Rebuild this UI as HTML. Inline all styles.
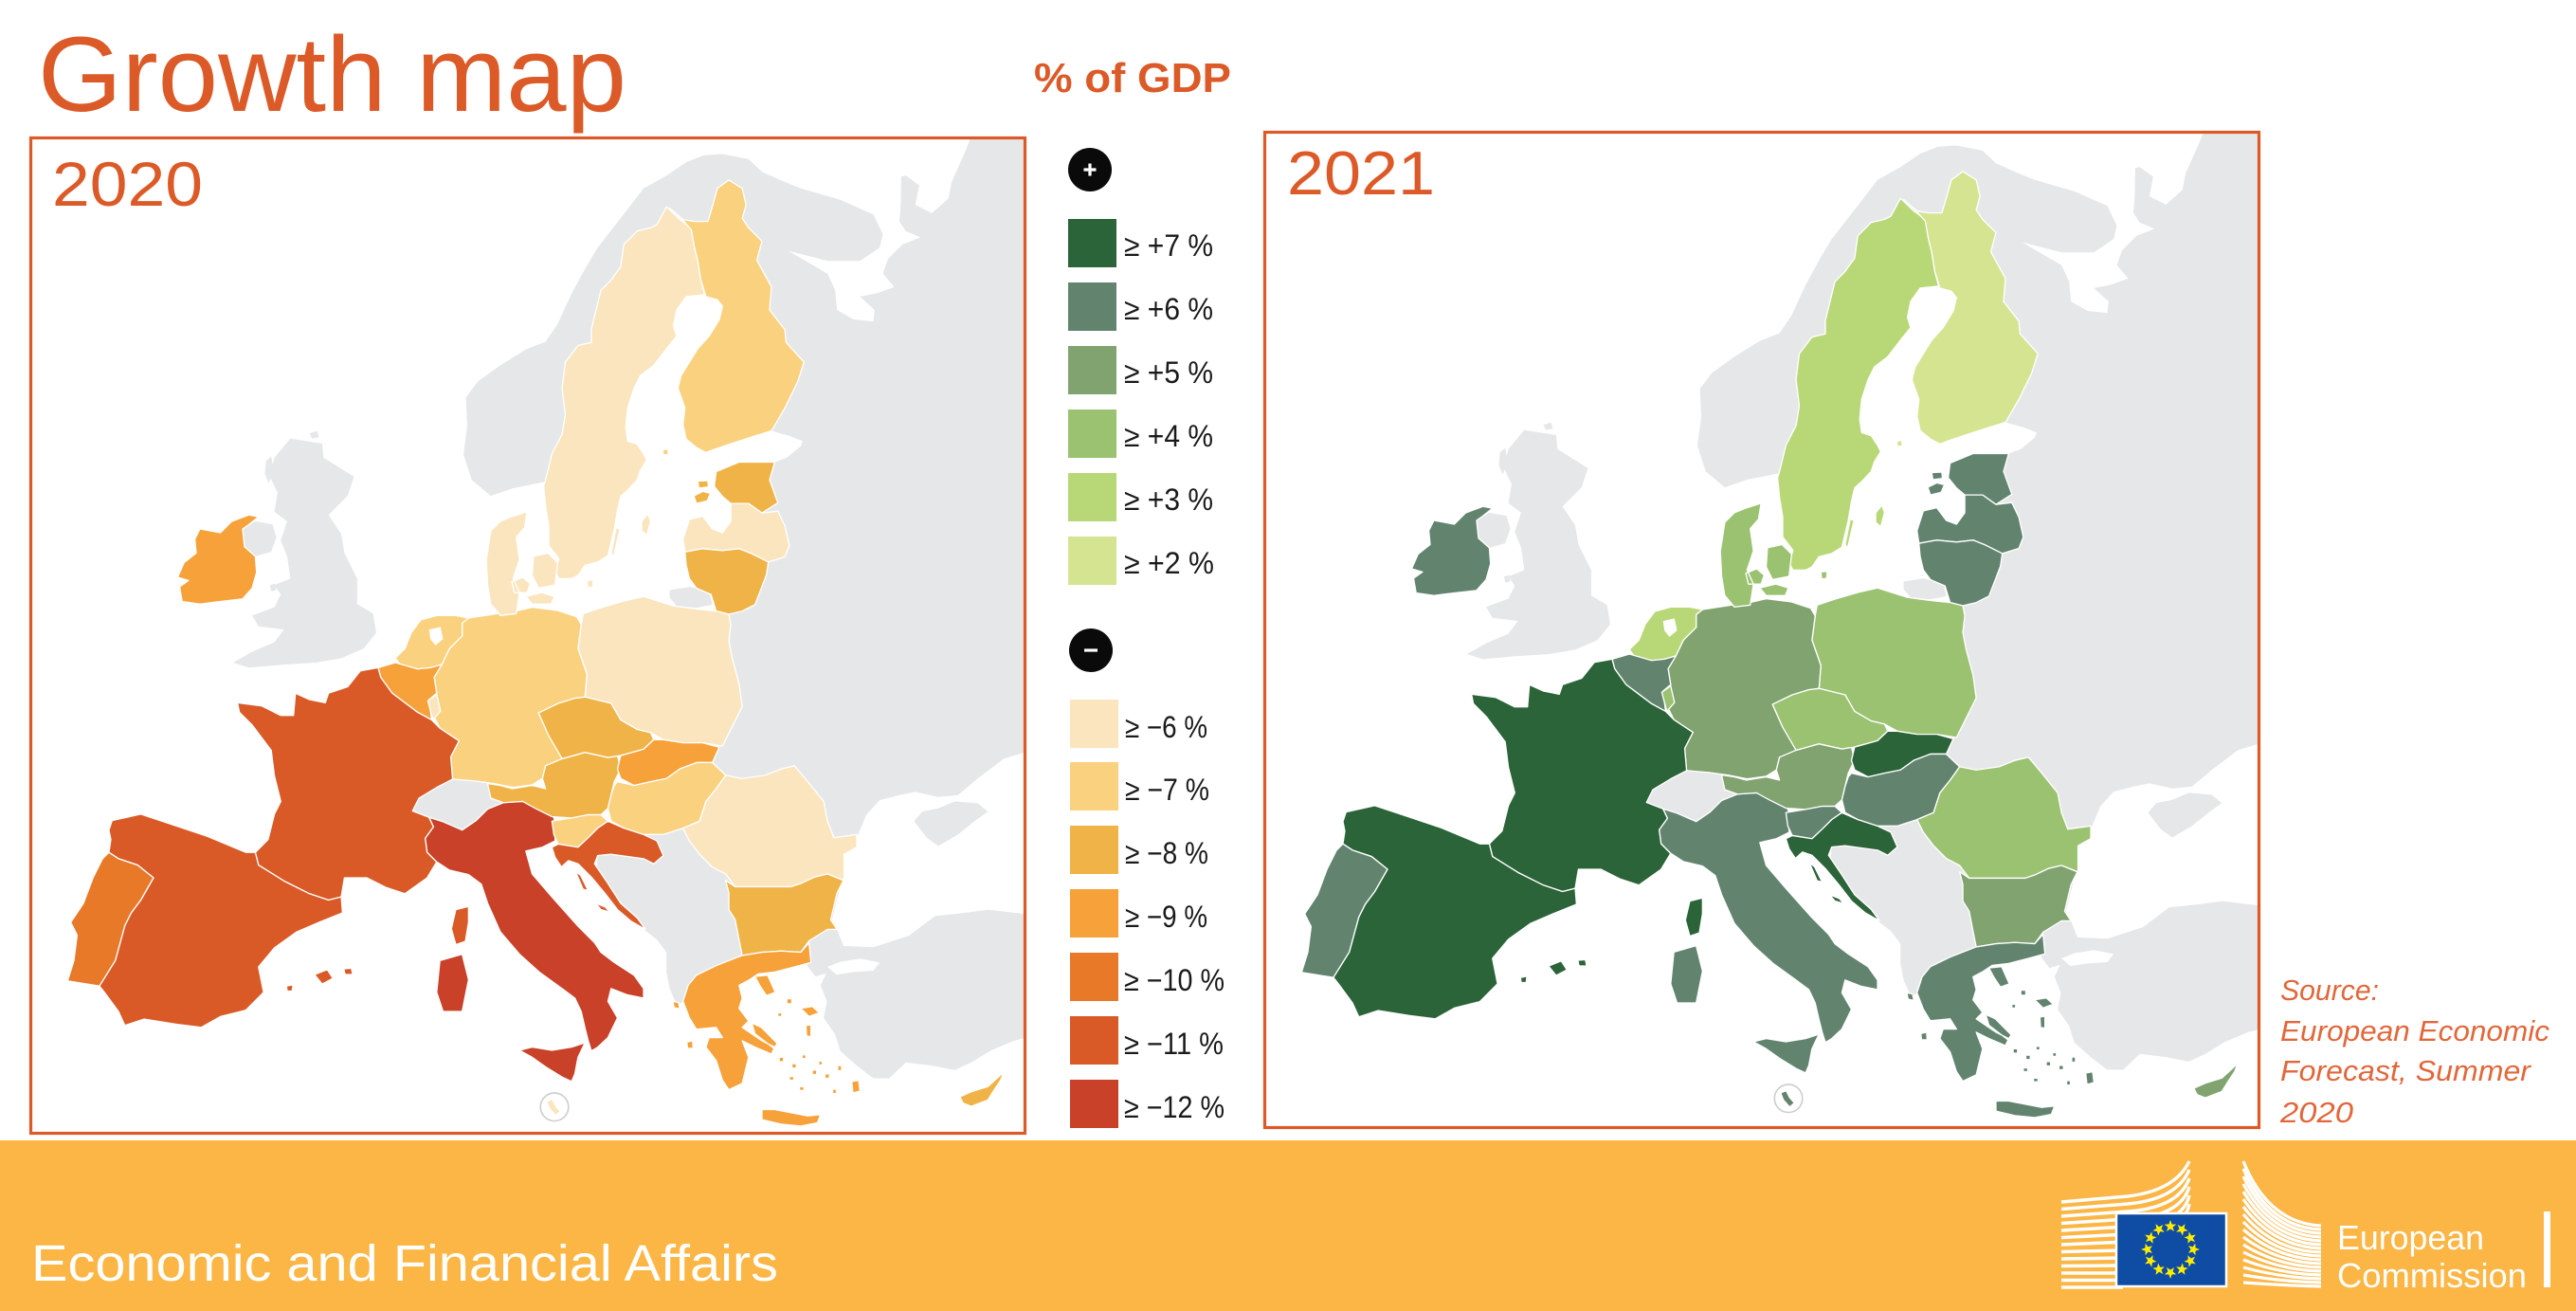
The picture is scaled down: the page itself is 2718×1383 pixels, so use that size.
<!DOCTYPE html>
<html><head><meta charset="utf-8"><style>
html,body{margin:0;padding:0;background:#fff;}
svg{display:block;}
text{font-family:"Liberation Sans","DejaVu Sans",sans-serif;}
</style></head><body>
<svg width="2718" height="1383" viewBox="0 0 2718 1383" xmlns="http://www.w3.org/2000/svg" xmlns:xlink="http://www.w3.org/1999/xlink">
<defs>
<clipPath id="c20" clipPathUnits="userSpaceOnUse"><rect x="33" y="146" width="1048" height="1049"/></clipPath>
<clipPath id="c21" clipPathUnits="userSpaceOnUse"><rect x="1335" y="140" width="1048" height="1048"/></clipPath>

<path id="east" d="M725,560 L695,535 L682,495 L688,450 L686,405 L705,380 L740,355 L780,330 L811,318 L830,290 L852,242 L875,200 L893,170 L929,124 L965,77 L1001,57 L1032,36 L1060,25 L1089,23 L1130,31 L1151,51 L1187,67 L1212,77 L1274,95 L1326,118 L1341,149 L1350,120 L1346,62 L1377,57 L1398,72 L1392,103 L1418,116 L1444,93 L1449,67 L1470,20 L1480,-5 L1590,-5 L1590,1405 L1547,1416 L1511,1431 L1480,1450 L1454,1462 L1418,1455 L1377,1450 L1351,1475 L1326,1475 L1300,1455 L1274,1432 L1266,1406 L1248,1380 L1253,1354 L1243,1329 L1252,1310 L1235,1315 L1222,1298 L1225,1262 L1200,1230 L1200,1140 L1150,1040 L1060,1040 L1000,985 L1050,900 L1080,770 L1090,700 L1120,630 L1130,560 L1160,515 L1171,507 L1190,500 L1212,482 L1215,474 L1195,466 L1166,458 L1150,400 L1110,200 L1100,110 L1000,180 L900,300 L840,500 L815,537 L800,540 L760,548 Z"/>
<path id="seas" d="M1192,175 L1254,191 L1305,191 L1336,170 L1341,149 L1336,118 L1344,52 L1370,50 L1369,103 L1367,129 L1377,144 L1400,154 L1372,165 L1349,188 L1341,211 L1359,232 L1331,242 L1305,247 L1328,268 L1326,286 L1295,283 L1269,268 L1266,237 L1254,211 L1223,193 Z M1300,1097 L1315,1061 L1336,1038 L1367,1030 L1392,1025 L1428,1033 L1459,1030 L1490,1004 L1531,973 L1590,955 L1590,1220 L1506,1210 L1470,1215 L1423,1220 L1382,1251 L1326,1269 L1279,1267 L1269,1241 L1261,1226 L1274,1174 L1280,1123 Z M1254,1300 L1274,1292 L1305,1287 L1336,1293 L1326,1306 L1295,1308 L1268,1312 Z"/>
<path id="gray2" d="M1390,1071 L1403,1056 L1428,1051 L1454,1040 L1490,1043 L1506,1056 L1485,1071 L1459,1092 L1428,1110 L1410,1097 Z
M410,470 L460,478 L462,500 L510,530 L500,560 L470,590 L490,620 L495,650 L515,690 L515,730 L540,745 L545,775 L525,800 L490,815 L450,822 L400,825 L345,830 L320,822 L350,805 L385,790 L400,770 L360,765 L350,748 L385,735 L395,715 L385,700 L410,690 L405,655 L395,630 L405,600 L385,585 L390,555 L378,530 L385,500 Z
M335,612 L355,600 L382,605 L388,625 L380,648 L355,655 L338,640 Z
M1006,708 L1037,703 L1068,710 L1073,731 L1048,736 L1017,733 L1006,720 Z
M602,1055 L612,1035 L640,1018 L665,1003 L700,1004 L732,1008 L748,1035 L742,1048 L720,1052 L702,1070 L680,1085 L650,1072 L628,1065 Z
M893,1123 L914,1102 L991,1082 L1048,1082 L1120,1123 L1130,1200 L1130,1277 L1079,1298 L1048,1313 L1032,1354 L1017,1359 L1006,1334 L1001,1308 L1001,1277 L986,1257 L965,1241 L940,1215 L914,1184 L891,1154 Z
M372,505 L380,498 L384,520 L376,540 L370,525 Z M440,462 L452,458 L455,468 L444,470 Z M378,700 L386,698 L388,708 L380,710 Z"/>

<path id="ie" d="M268,612 L300,618 L318,600 L345,590 L360,593 L345,605 L335,612 L338,640 L355,655 L357,680 L350,705 L335,722 L300,726 L268,730 L240,726 L236,703 L250,693 L233,688 L243,665 L262,650 L260,628 Z"/>
<path id="se" d="M1001,106 L1022,126 L1040,139 L1045,170 L1050,190 L1055,221 L1061,244 L1032,247 L1017,268 L1012,293 L1017,309 L1001,329 L981,355 L960,371 L950,391 L940,422 L937,453 L940,474 L955,479 L965,494 L970,504 L960,520 L955,535 L940,551 L929,561 L924,582 L919,612 L914,633 L909,654 L893,664 L873,669 L862,685 L852,690 L832,690 L826,679 L832,659 L816,638 L816,607 L811,576 L808,545 L811,535 L821,494 L837,463 L842,432 L837,391 L842,350 L862,324 L883,319 L883,298 L898,237 L914,221 L929,200 L934,165 L955,144 L976,139 L986,134 Z M962,600 L972,588 L976,600 L970,622 L962,615 Z M922,610 L928,612 L918,655 L914,650 Z"/>
<path id="fi" d="M1006,108 L1027,126 L1045,129 L1066,129 L1073,106 L1081,77 L1099,64 L1120,77 L1126,103 L1120,124 L1130,139 L1151,160 L1143,190 L1166,232 L1163,268 L1187,299 L1189,319 L1217,350 L1207,381 L1187,422 L1166,458 L1140,466 L1109,476 L1079,486 L1063,492 L1048,484 L1032,471 L1027,448 L1030,422 L1019,391 L1024,371 L1037,350 L1050,329 L1068,309 L1084,283 L1089,262 L1081,252 L1063,247 L1055,221 L1050,190 L1045,170 L1040,142 L1024,124 Z M995,488 L1003,486 L1004,495 L996,496 Z"/>
<path id="ee" d="M1079,522 L1115,507 L1171,507 L1163,535 L1176,571 L1151,587 L1130,572 L1102,572 L1089,561 L1076,545 Z M1044,560 L1058,553 L1070,556 L1065,568 L1048,572 Z M1050,537 L1066,536 L1067,546 L1052,548 Z"/>
<path id="lv" d="M1037,597 L1058,592 L1073,612 L1089,618 L1102,600 L1102,572 L1130,572 L1151,587 L1176,584 L1187,607 L1194,638 L1187,656 L1161,664 L1135,651 L1115,643 L1089,646 L1058,643 L1030,648 L1027,628 Z"/>
<path id="lt" d="M1030,648 L1058,643 L1089,646 L1115,643 L1135,651 L1161,664 L1158,684 L1150,705 L1140,731 L1120,741 L1099,746 L1079,741 L1071,715 L1048,705 L1037,690 L1032,669 Z"/>
<path id="pl" d="M870,745 L900,735 L935,725 L965,718 L1012,733 L1050,738 L1079,741 L1099,746 L1102,762 L1099,788 L1104,814 L1115,855 L1120,891 L1089,953 L1058,948 L1027,948 L996,943 L976,932 L955,927 L929,912 L914,886 L873,876 L876,840 L862,800 L867,762 Z"/>
<path id="de" d="M690,752 L735,745 L760,742 L790,735 L830,740 L860,750 L867,762 L862,800 L876,840 L873,876 L857,878 L831,886 L800,901 L816,937 L837,958 L842,973 L811,984 L806,1004 L790,1014 L760,1018 L730,1012 L700,1008 L665,1005 L662,970 L675,945 L645,925 L635,905 L640,870 L636,845 L648,825 L660,800 L680,780 L680,760 Z"/>
<path id="dk" d="M725,615 L740,600 L760,592 L782,585 L778,610 L765,625 L770,660 L760,690 L770,712 L765,745 L740,748 L725,730 L720,700 L718,660 L722,635 Z M758,695 L775,688 L787,698 L782,712 L762,712 Z M792,655 L815,650 L830,665 L826,700 L800,705 L790,685 Z M780,718 L805,712 L825,718 L820,730 L790,730 Z M876,693 L886,692 L885,703 L877,704 Z"/>
<path id="nl" d="M590,800 L600,775 L615,755 L640,748 L670,748 L690,752 L680,760 L680,780 L660,800 L648,825 L630,830 L610,832 L585,828 L575,815 Z"/>
<path id="ij" d="M628,770 L646,766 L650,785 L638,795 L630,785 Z"/>
<path id="be" d="M548,830 L575,822 L610,832 L630,830 L648,825 L636,845 L640,870 L628,880 L632,912 L610,900 L590,885 L570,870 L552,845 Z"/>
<path id="lu" d="M626,882 L640,872 L646,898 L634,912 Z"/>
<path id="fr" d="M520,835 L548,830 L552,845 L570,870 L590,885 L610,900 L632,912 L645,925 L675,945 L662,970 L665,1005 L640,1018 L612,1035 L602,1055 L628,1065 L635,1080 L622,1098 L625,1120 L640,1135 L625,1160 L590,1185 L560,1175 L530,1160 L495,1160 L490,1190 L470,1195 L440,1185 L400,1165 L360,1140 L355,1120 L375,1100 L385,1060 L395,1040 L385,1000 L380,960 L350,920 L330,900 L327,885 L365,890 L395,905 L415,905 L418,870 L440,880 L465,885 L470,870 L500,860 Z M670,1210 L690,1205 L690,1230 L685,1260 L670,1265 L663,1240 Z"/>
<path id="es" d="M130,1070 L175,1060 L220,1075 L280,1095 L340,1120 L355,1120 L360,1140 L400,1165 L440,1185 L470,1195 L490,1190 L492,1215 L455,1230 L420,1245 L385,1270 L360,1300 L368,1340 L340,1368 L300,1378 L270,1395 L230,1390 L180,1382 L150,1392 L140,1370 L118,1340 L110,1330 L135,1290 L150,1235 L160,1215 L175,1195 L195,1160 L170,1140 L140,1130 L125,1120 L128,1100 L125,1085 Z M448,1312 L468,1304 L477,1318 L460,1327 Z M494,1303 L506,1302 L508,1312 L496,1312 Z M404,1330 L414,1328 L413,1338 L405,1338 Z"/>
<path id="pt" d="M125,1120 L140,1130 L170,1140 L195,1160 L175,1195 L160,1215 L150,1235 L135,1290 L110,1330 L60,1322 L70,1290 L75,1250 L65,1230 L85,1200 L100,1160 L115,1130 Z"/>
<path id="it" d="M622,1098 L635,1080 L628,1065 L650,1072 L680,1085 L702,1070 L720,1052 L745,1042 L770,1040 L800,1040 L822,1055 L826,1075 L826,1102 L806,1112 L780,1118 L790,1154 L821,1190 L862,1236 L888,1262 L898,1277 L919,1293 L950,1313 L965,1334 L965,1349 L940,1344 L914,1334 L909,1354 L924,1380 L909,1411 L893,1426 L883,1432 L878,1416 L873,1396 L867,1370 L857,1349 L837,1334 L801,1308 L770,1280 L740,1245 L720,1200 L710,1170 L690,1155 L660,1148 L640,1135 L625,1120 Z M770,1431 L790,1426 L821,1431 L852,1426 L873,1419 L862,1442 L857,1468 L852,1480 L837,1473 L811,1457 L790,1442 Z M645,1290 L680,1280 L690,1320 L680,1370 L650,1370 L640,1340 Z"/>
<path id="at" d="M720,1012 L740,1015 L759,1020 L790,1015 L811,1020 L806,1004 L811,984 L837,973 L873,963 L909,971 L924,968 L929,989 L919,1009 L914,1030 L909,1051 L898,1061 L878,1061 L852,1066 L821,1064 L795,1051 L775,1040 L745,1042 L725,1035 Z"/>
<path id="cz" d="M800,901 L831,886 L857,878 L873,876 L914,886 L929,912 L955,927 L976,932 L981,943 L965,958 L929,968 L909,971 L873,963 L837,973 L816,937 Z"/>
<path id="sk" d="M929,968 L965,958 L981,943 L996,943 L1027,948 L1058,948 L1084,955 L1073,979 L1048,979 L1022,989 L1001,1004 L976,1009 L950,1015 L929,1004 L924,989 Z"/>
<path id="hu" d="M924,1009 L950,1015 L976,1009 L1001,1004 L1022,989 L1048,979 L1073,979 L1094,999 L1079,1020 L1063,1040 L1053,1071 L1027,1082 L996,1092 L965,1092 L934,1082 L914,1071 L909,1051 L914,1030 L919,1015 Z"/>
<path id="si" d="M821,1071 L852,1066 L878,1061 L898,1061 L909,1071 L893,1082 L878,1097 L862,1112 L831,1107 L824,1092 Z"/>
<path id="hr" d="M862,1112 L878,1097 L893,1082 L909,1071 L934,1082 L965,1092 L986,1102 L996,1125 L981,1138 L965,1130 L914,1123 L893,1125 L888,1138 L909,1169 L929,1200 L955,1223 L968,1241 L945,1228 L924,1210 L904,1184 L883,1159 L862,1138 L847,1133 L836,1143 L826,1128 L821,1112 L831,1107 Z M858,1150 L866,1156 L878,1180 L870,1178 Z M890,1200 L905,1206 L912,1214 L898,1210 Z"/>
<path id="ro" d="M1027,1082 L1053,1071 L1063,1040 L1079,1020 L1094,999 L1120,1004 L1156,999 L1181,989 L1202,984 L1223,1009 L1248,1040 L1254,1071 L1264,1097 L1300,1092 L1300,1112 L1280,1123 L1280,1164 L1254,1154 L1233,1159 L1212,1169 L1197,1174 L1171,1174 L1145,1174 L1109,1174 L1094,1154 L1073,1143 L1053,1123 L1037,1102 Z"/>
<path id="bg" d="M1094,1164 L1109,1174 L1145,1174 L1171,1174 L1197,1174 L1212,1169 L1233,1159 L1254,1154 L1279,1164 L1269,1184 L1259,1226 L1269,1241 L1254,1241 L1225,1259 L1212,1277 L1181,1275 L1151,1277 L1120,1282 L1115,1257 L1109,1226 L1099,1210 L1099,1184 Z"/>
<path id="gr" d="M1048,1313 L1079,1298 L1120,1282 L1151,1277 L1181,1275 L1212,1277 L1225,1262 L1228,1293 L1202,1300 L1171,1308 L1145,1311 L1130,1321 L1115,1329 L1120,1349 L1115,1365 L1130,1385 L1120,1395 L1151,1416 L1171,1426 L1166,1437 L1140,1426 L1120,1416 L1130,1442 L1120,1483 L1099,1493 L1089,1478 L1079,1447 L1063,1426 L1068,1411 L1089,1411 L1079,1395 L1048,1398 L1037,1380 L1027,1354 L1035,1329 Z M1140,1315 L1160,1313 L1172,1340 L1158,1345 L1148,1330 Z M1151,1524 L1171,1524 L1197,1529 L1223,1534 L1243,1532 L1238,1545 L1212,1550 L1181,1547 L1151,1540 Z M1212,1365 L1230,1362 L1241,1372 L1225,1378 Z M1220,1392 L1228,1391 L1228,1410 L1221,1408 Z M1292,1480 L1303,1478 L1305,1495 L1294,1498 Z M1135,1388 L1150,1395 L1175,1420 L1170,1428 L1140,1405 Z M1011,1354 L1020,1356 L1022,1366 L1013,1364 Z M1033,1418 L1042,1416 L1043,1428 L1034,1428 Z M1178,1442 h7 v7 h-7 Z M1198,1452 h7 v7 h-7 Z M1214,1438 h6 v6 h-6 Z M1230,1462 h7 v7 h-7 Z M1194,1472 h7 v6 h-7 Z M1250,1468 h7 v7 h-7 Z M1210,1488 h7 v6 h-7 Z M1262,1492 h6 v7 h-6 Z M1240,1448 h6 v6 h-6 Z M1190,1350 h8 v8 h-8 Z M1176,1372 h6 v6 h-6 Z M1270,1455 h6 v8 h-6 Z"/>
<path id="cy" d="M1462,1504 L1480,1496 L1506,1488 L1531,1465 L1526,1478 L1516,1493 L1506,1509 L1480,1519 L1467,1514 Z"/>
<path id="mt" d="M814,1512 L821,1509 L826,1519 L833,1527 L827,1532 L818,1522 Z"/>

<g id="base">
<use xlink:href="#east" fill="#E6E7E8"/>
<use xlink:href="#seas" fill="#FFFFFF"/>
<use xlink:href="#gray2" fill="#E6E7E8"/>
<circle cx="825" cy="1520" r="22" fill="#fff" stroke="#cfcfcf" stroke-width="2.5"/>
</g>
</defs>

<rect x="0" y="0" width="2718" height="1383" fill="#fff"/>

<!-- 2020 map -->
<g clip-path="url(#c20)">
<g transform="translate(31,147) scale(0.671556)">
<use xlink:href="#base"/>
<g stroke="#fff" stroke-width="2" stroke-linejoin="round">
<use xlink:href="#ie" fill="#F7A13A"/>
<use xlink:href="#se" fill="#FAE5BE"/>
<use xlink:href="#fi" fill="#FAD17E"/>
<use xlink:href="#ee" fill="#F0B347"/>
<use xlink:href="#lv" fill="#FAE5BE"/>
<use xlink:href="#lt" fill="#F0B347"/>
<use xlink:href="#pl" fill="#FAE5BE"/>
<use xlink:href="#de" fill="#FAD17E"/>
<use xlink:href="#dk" fill="#FAE5BE"/>
<use xlink:href="#nl" fill="#FAD17E"/>
<use xlink:href="#be" fill="#F7A13A"/>
<use xlink:href="#lu" fill="#FAE5BE"/>
<use xlink:href="#fr" fill="#D95A27"/>
<use xlink:href="#es" fill="#D95A27"/>
<use xlink:href="#pt" fill="#E77928"/>
<use xlink:href="#it" fill="#C84128"/>
<use xlink:href="#at" fill="#F0B347"/>
<use xlink:href="#cz" fill="#F0B347"/>
<use xlink:href="#sk" fill="#F7A13A"/>
<use xlink:href="#hu" fill="#FAD17E"/>
<use xlink:href="#si" fill="#FAD17E"/>
<use xlink:href="#hr" fill="#D95A27"/>
<use xlink:href="#ro" fill="#FAE5BE"/>
<use xlink:href="#bg" fill="#F0B347"/>
<use xlink:href="#gr" fill="#F7A13A"/>
<use xlink:href="#cy" fill="#F0B347"/>
</g>
<use xlink:href="#ij" fill="#fff"/>
<use xlink:href="#mt" fill="#FAE5BE"/>
</g>
</g>
<rect x="32.5" y="145.5" width="1049" height="1050" fill="none" stroke="#DC5A27" stroke-width="3.2"/>

<!-- 2021 map -->
<g clip-path="url(#c21)">
<g transform="translate(1333,138) scale(0.671556)">
<use xlink:href="#base"/>
<g stroke="#fff" stroke-width="2" stroke-linejoin="round">
<use xlink:href="#ie" fill="#62846F"/>
<use xlink:href="#se" fill="#B8D877"/>
<use xlink:href="#fi" fill="#D5E490"/>
<use xlink:href="#ee" fill="#62846F"/>
<use xlink:href="#lv" fill="#62846F"/>
<use xlink:href="#lt" fill="#62846F"/>
<use xlink:href="#pl" fill="#9BC271"/>
<use xlink:href="#de" fill="#80A370"/>
<use xlink:href="#dk" fill="#9BC271"/>
<use xlink:href="#nl" fill="#B8D877"/>
<use xlink:href="#be" fill="#62846F"/>
<use xlink:href="#lu" fill="#9BC271"/>
<use xlink:href="#fr" fill="#2C6439"/>
<use xlink:href="#es" fill="#2C6439"/>
<use xlink:href="#pt" fill="#62846F"/>
<use xlink:href="#it" fill="#62846F"/>
<use xlink:href="#at" fill="#80A370"/>
<use xlink:href="#cz" fill="#9BC271"/>
<use xlink:href="#sk" fill="#2C6439"/>
<use xlink:href="#hu" fill="#62846F"/>
<use xlink:href="#si" fill="#62846F"/>
<use xlink:href="#hr" fill="#2C6439"/>
<use xlink:href="#ro" fill="#9BC271"/>
<use xlink:href="#bg" fill="#80A370"/>
<use xlink:href="#gr" fill="#62846F"/>
<use xlink:href="#cy" fill="#80A370"/>
</g>
<use xlink:href="#ij" fill="#fff"/>
<use xlink:href="#mt" fill="#62846F"/>
</g>
</g>
<rect x="1334.5" y="139.5" width="1049" height="1050" fill="none" stroke="#DC5A27" stroke-width="3.2"/>

<!-- titles -->
<text x="40" y="117" font-size="112" fill="#DC5A27" textLength="621" lengthAdjust="spacingAndGlyphs">Growth map</text>
<text x="1091" y="97" font-size="44" font-weight="bold" fill="#DC5A27" textLength="208" lengthAdjust="spacingAndGlyphs">% of GDP</text>
<text x="55" y="217" font-size="66" fill="#DC5A27" textLength="159" lengthAdjust="spacingAndGlyphs">2020</text>
<text x="1358" y="205" font-size="65" fill="#DC5A27" textLength="156" lengthAdjust="spacingAndGlyphs">2021</text>

<!-- legend -->
<circle cx="1150" cy="179" r="23" fill="#0a0a0a"/>
<path d="M1143.5,179 h13 M1150,172.5 v13" stroke="#fff" stroke-width="3.2"/>
<circle cx="1151" cy="686" r="23" fill="#0a0a0a"/>
<path d="M1144,686 h14" stroke="#fff" stroke-width="3.2"/>

<g font-size="32" fill="#1a1a1a">
<rect x="1127" y="231" width="51" height="51" fill="#2C6439"/>
<text x="1186" y="270" textLength="94" lengthAdjust="spacingAndGlyphs">≥ +7 %</text>
<rect x="1127" y="298" width="51" height="51" fill="#62846F"/>
<text x="1186" y="337" textLength="94" lengthAdjust="spacingAndGlyphs">≥ +6 %</text>
<rect x="1127" y="365" width="51" height="51" fill="#80A370"/>
<text x="1186" y="404" textLength="94" lengthAdjust="spacingAndGlyphs">≥ +5 %</text>
<rect x="1127" y="432" width="51" height="51" fill="#9BC271"/>
<text x="1186" y="471" textLength="94" lengthAdjust="spacingAndGlyphs">≥ +4 %</text>
<rect x="1127" y="499" width="51" height="51" fill="#B8D877"/>
<text x="1186" y="538" textLength="94" lengthAdjust="spacingAndGlyphs">≥ +3 %</text>
<rect x="1127" y="566" width="51" height="51" fill="#D5E490"/>
<text x="1186" y="605" textLength="95" lengthAdjust="spacingAndGlyphs">≥ +2 %</text>

<rect x="1129" y="738" width="51" height="51" fill="#FAE5BE"/>
<text x="1187" y="778" textLength="87" lengthAdjust="spacingAndGlyphs">≥ −6 %</text>
<rect x="1129" y="804" width="51" height="51" fill="#FAD17E"/>
<text x="1187" y="844" textLength="89" lengthAdjust="spacingAndGlyphs">≥ −7 %</text>
<rect x="1129" y="871" width="51" height="51" fill="#F0B347"/>
<text x="1187" y="911" textLength="88" lengthAdjust="spacingAndGlyphs">≥ −8 %</text>
<rect x="1129" y="938" width="51" height="51" fill="#F7A13A"/>
<text x="1187" y="978" textLength="87" lengthAdjust="spacingAndGlyphs">≥ −9 %</text>
<rect x="1129" y="1005" width="51" height="51" fill="#E77928"/>
<text x="1186" y="1045" textLength="106" lengthAdjust="spacingAndGlyphs">≥ −10 %</text>
<rect x="1129" y="1072" width="51" height="51" fill="#D95A27"/>
<text x="1186" y="1112" textLength="105" lengthAdjust="spacingAndGlyphs">≥ −11 %</text>
<rect x="1129" y="1139" width="51" height="51" fill="#C84128"/>
<text x="1186" y="1179" textLength="106" lengthAdjust="spacingAndGlyphs">≥ −12 %</text>
</g>

<!-- source -->
<g font-size="31" font-style="italic" fill="#E2673A">
<text x="2406" y="1055" textLength="104" lengthAdjust="spacingAndGlyphs">Source:</text>
<text x="2406" y="1098" textLength="284" lengthAdjust="spacingAndGlyphs">European Economic</text>
<text x="2406" y="1140" textLength="264" lengthAdjust="spacingAndGlyphs">Forecast, Summer</text>
<text x="2406" y="1184" textLength="77" lengthAdjust="spacingAndGlyphs">2020</text>
</g>

<!-- footer -->
<rect x="0" y="1203" width="2718" height="180" fill="#FBB645"/>
<text x="33" y="1351" font-size="54" fill="#fff" textLength="788" lengthAdjust="spacingAndGlyphs">Economic and Financial Affairs</text>

<!-- EC logo -->
<g fill="none" stroke="#fff" stroke-width="3.4">
<path d="M2175,1268 L2245,1262 Q2295,1256 2310,1225"/>
<path d="M2175,1275.5 L2245,1270 Q2297,1265 2310,1234"/>
<path d="M2175,1283 L2245,1278 Q2299,1274 2310,1243"/>
<path d="M2175,1290.5 L2245,1286 Q2301,1283 2310,1252"/>
<path d="M2175,1298 L2245,1294 Q2303,1292 2310,1261"/>
<path d="M2175,1305.5 L2245,1302 Q2305,1301 2310,1270"/>
<path d="M2175,1313 L2245,1310 Q2307,1310 2310,1279"/>
<path d="M2175,1320.5 L2240,1319"/>
<path d="M2175,1328 L2240,1327"/>
<path d="M2175,1335.5 L2240,1335"/>
<path d="M2175,1343 L2240,1343"/>
<path d="M2175,1350.5 L2240,1350.5"/>
<path d="M2175,1358 L2240,1358"/>
</g>
<rect x="2233" y="1280" width="116" height="77" fill="#0F4CA3" stroke="#fff" stroke-width="2.5"/>
<g fill="#FFED00">
<polygon points="2290,1287 2291.6,1291.5 2296.3,1291.6 2292.6,1294.5 2293.9,1299 2290,1296.4 2286.1,1299 2287.4,1294.5 2283.7,1291.6 2288.4,1291.5"/>
<use xlink:href="#st" />
</g>
<g fill="#FFED00" id="stars">
<polygon transform="rotate(30 2290 1318)" points="2290,1287 2291.6,1291.5 2296.3,1291.6 2292.6,1294.5 2293.9,1299 2290,1296.4 2286.1,1299 2287.4,1294.5 2283.7,1291.6 2288.4,1291.5"/>
<polygon transform="rotate(60 2290 1318)" points="2290,1287 2291.6,1291.5 2296.3,1291.6 2292.6,1294.5 2293.9,1299 2290,1296.4 2286.1,1299 2287.4,1294.5 2283.7,1291.6 2288.4,1291.5"/>
<polygon transform="rotate(90 2290 1318)" points="2290,1287 2291.6,1291.5 2296.3,1291.6 2292.6,1294.5 2293.9,1299 2290,1296.4 2286.1,1299 2287.4,1294.5 2283.7,1291.6 2288.4,1291.5"/>
<polygon transform="rotate(120 2290 1318)" points="2290,1287 2291.6,1291.5 2296.3,1291.6 2292.6,1294.5 2293.9,1299 2290,1296.4 2286.1,1299 2287.4,1294.5 2283.7,1291.6 2288.4,1291.5"/>
<polygon transform="rotate(150 2290 1318)" points="2290,1287 2291.6,1291.5 2296.3,1291.6 2292.6,1294.5 2293.9,1299 2290,1296.4 2286.1,1299 2287.4,1294.5 2283.7,1291.6 2288.4,1291.5"/>
<polygon transform="rotate(180 2290 1318)" points="2290,1287 2291.6,1291.5 2296.3,1291.6 2292.6,1294.5 2293.9,1299 2290,1296.4 2286.1,1299 2287.4,1294.5 2283.7,1291.6 2288.4,1291.5"/>
<polygon transform="rotate(210 2290 1318)" points="2290,1287 2291.6,1291.5 2296.3,1291.6 2292.6,1294.5 2293.9,1299 2290,1296.4 2286.1,1299 2287.4,1294.5 2283.7,1291.6 2288.4,1291.5"/>
<polygon transform="rotate(240 2290 1318)" points="2290,1287 2291.6,1291.5 2296.3,1291.6 2292.6,1294.5 2293.9,1299 2290,1296.4 2286.1,1299 2287.4,1294.5 2283.7,1291.6 2288.4,1291.5"/>
<polygon transform="rotate(270 2290 1318)" points="2290,1287 2291.6,1291.5 2296.3,1291.6 2292.6,1294.5 2293.9,1299 2290,1296.4 2286.1,1299 2287.4,1294.5 2283.7,1291.6 2288.4,1291.5"/>
<polygon transform="rotate(300 2290 1318)" points="2290,1287 2291.6,1291.5 2296.3,1291.6 2292.6,1294.5 2293.9,1299 2290,1296.4 2286.1,1299 2287.4,1294.5 2283.7,1291.6 2288.4,1291.5"/>
<polygon transform="rotate(330 2290 1318)" points="2290,1287 2291.6,1291.5 2296.3,1291.6 2292.6,1294.5 2293.9,1299 2290,1296.4 2286.1,1299 2287.4,1294.5 2283.7,1291.6 2288.4,1291.5"/>
</g>
<g fill="none" stroke="#fff" stroke-width="3.2">
<path d="M2367,1225 Q2393,1290 2449,1293"/>
<path d="M2367,1233 Q2394,1295 2449,1297"/>
<path d="M2367,1241 Q2395,1299 2449,1301"/>
<path d="M2367,1249 Q2396,1303 2449,1305"/>
<path d="M2367,1257 Q2397,1307 2449,1309"/>
<path d="M2367,1265 Q2398,1311 2449,1313"/>
<path d="M2367,1273 Q2399,1315 2449,1317"/>
<path d="M2367,1281 Q2400,1320 2449,1321"/>
<path d="M2367,1289 Q2401,1324 2449,1325"/>
<path d="M2367,1297 Q2402,1328 2449,1329"/>
<path d="M2367,1305 Q2403,1332 2449,1333"/>
<path d="M2367,1313 Q2404,1336 2449,1337"/>
<path d="M2367,1321 Q2405,1340 2449,1341"/>
<path d="M2367,1329 Q2406,1344 2449,1345"/>
<path d="M2367,1337 Q2407,1348 2449,1349"/>
<path d="M2367,1345 Q2408,1352 2449,1353"/>
<path d="M2367,1353 Q2409,1356 2449,1357"/>
</g>
<text x="2466" y="1318" font-size="36" fill="#fff" textLength="155" lengthAdjust="spacingAndGlyphs">European</text>
<text x="2466" y="1358" font-size="36" fill="#fff" textLength="200" lengthAdjust="spacingAndGlyphs">Commission</text>
<rect x="2684" y="1278" width="7" height="80" fill="#fff"/>
</svg>
</body></html>
